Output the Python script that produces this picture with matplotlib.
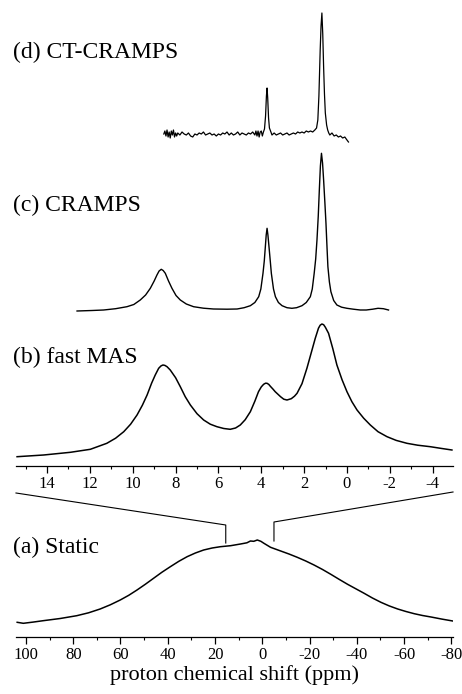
import matplotlib
matplotlib.use("Agg")
import matplotlib.pyplot as plt
from matplotlib.ticker import MultipleLocator, FormatStrFormatter

plt.rcParams['font.family'] = ['Liberation Serif', 'DejaVu Serif']
plt.rcParams['axes.unicode_minus'] = False

# traced spectra: chemical shift (ppm) and height above each trace's baseline (arb.)
# (a) static, wide ppm range
ppm_a = [103.7, 101.1, 97.0, 92.7, 85.5, 78.5, 73.5, 68.6, 64.3, 60.1, 56.5, 53.0,
         49.5, 46.0, 42.5, 38.9, 35.3, 31.8, 28.3, 24.8, 21.2, 17.7, 13.4, 9.2,
         6.5, 5.0, 3.6, 2.1, 0.6, -0.7, -3.5, -7.8, -11.3, -14.8, -18.4, -21.9,
         -25.5, -29.0, -32.5, -36.1, -39.6, -43.1, -46.6, -50.2, -53.7, -57.3,
         -60.8, -64.3, -67.8, -71.4, -76.0, -80.6]
int_a = [1.0, 0.0, 1.2, 2.6, 4.8, 7.6, 10.5, 14.3, 18.5, 23.3, 28.0, 33.3,
         39.0, 45.0, 51.0, 56.6, 62.0, 66.6, 70.3, 73.3, 75.3, 76.6, 77.6, 79.3,
         80.5, 82.3, 82.0, 83.3, 82.0, 80.0, 76.0, 72.3, 69.3, 66.0, 62.3, 58.3,
         53.8, 49.0, 44.0, 39.0, 34.5, 30.0, 25.3, 21.0, 17.4, 14.3,
         11.8, 9.6, 7.8, 6.3, 4.2, 2.3]

# (b) fast MAS
ppm_b = [15.40, 14.16, 12.91, 11.98, 11.21, 10.80, 10.42, 10.10, 9.80, 9.55, 9.33,
         9.12, 8.95, 8.79, 8.68, 8.59, 8.50, 8.40, 8.25, 8.00, 7.78, 7.55, 7.31,
         7.00, 6.69, 6.38, 6.07, 5.75, 5.45, 5.20, 4.98, 4.75, 4.51, 4.30, 4.13,
         4.00, 3.89, 3.80, 3.73, 3.65, 3.58, 3.45, 3.35, 3.10, 2.95, 2.80, 2.60,
         2.45, 2.33, 2.10, 1.87, 1.68, 1.48, 1.33, 1.25, 1.17, 1.09, 1.01, 0.86,
         0.66, 0.47, 0.23, 0.0, -0.23, -0.47, -0.78, -1.09, -1.45, -1.87, -2.30,
         -2.80, -3.30, -3.89, -4.40, -4.90]
int_b = [0.0, 1.7, 4.4, 7.4, 13.4, 18.5, 25.0, 32.5, 41.7, 51.5, 61.7,
         73.5, 81.7, 88.4, 90.8, 91.7, 91.3, 90.0, 86.7, 79.0, 70.0, 60.0, 51.7,
         43.0, 36.7, 32.5, 30.0, 28.2, 27.4, 28.7, 31.7, 37.0, 45.0, 55.5, 65.0,
         69.8, 72.4, 73.5, 73.4, 72.3, 70.5, 67.5, 65.0, 60.0, 57.5, 56.7, 58.0,
         60.5, 63.4, 73.0, 88.4, 103.0, 118.4, 128.5, 131.5, 132.7, 132.0, 129.5, 123.4,
         108.0, 91.7, 77.0, 65.0, 55.0, 46.7, 38.5, 31.7, 25.0, 20.0, 16.3,
         13.4, 11.5, 10.0, 8.3, 6.7]

# (c) CRAMPS
ppm_c = [12.60, 11.90, 11.36, 10.80, 10.27, 9.95, 9.65, 9.40, 9.18, 9.00, 8.87,
         8.77, 8.67, 8.58, 8.48, 8.33, 8.17, 7.98, 7.78, 7.50, 7.16, 6.70, 6.23,
         5.60, 5.13, 4.80, 4.51, 4.30, 4.12, 4.02, 3.92, 3.86, 3.81, 3.77, 3.73,
         3.69, 3.64, 3.58, 3.53, 3.43, 3.34, 3.20, 3.03, 2.80, 2.57, 2.35, 2.10,
         1.90, 1.71, 1.62, 1.53, 1.46, 1.40, 1.34, 1.29, 1.24, 1.19, 1.14, 1.09,
         1.03, 0.98, 0.93, 0.89, 0.82, 0.75, 0.62, 0.47, 0.25, 0.0, -0.30, -0.62,
         -0.90, -1.20, -1.45, -1.70, -1.94]
int_c = [0.0, 0.5, 1.0, 2.3, 4.3, 6.5, 11.0, 16.0, 22.7, 30.0, 36.0,
         40.0, 41.7, 40.5, 37.7, 30.0, 22.7, 15.5, 11.0, 7.0, 4.3, 2.8, 2.0,
         1.8, 2.0, 3.3, 5.3, 8.5, 14.3, 22.0, 37.7, 50.0, 64.3, 76.0, 82.7,
         76.0, 64.3, 50.0, 37.7, 22.0, 14.3, 8.5, 5.3, 3.3, 2.7, 3.3, 5.3,
         8.5, 14.3, 22.0, 37.7, 52.0, 71.0, 95.0, 121.0, 145.0, 157.7, 148.0, 131.0,
         108.0, 87.7, 63.0, 44.3, 29.0, 19.3, 10.5, 6.0, 3.8, 2.7, 1.8, 1.0,
         1.0, 1.8, 2.7, 2.3, 1.0]

# (d) CT-CRAMPS
ppm_d = [8.55, 8.5, 8.45, 8.4, 8.35, 8.3, 8.25, 8.2, 8.15, 8.1, 8.05, 8.0, 7.95,
         7.9, 7.8, 7.7, 7.6, 7.5, 7.4, 7.3, 7.2, 7.1, 7.0, 6.9, 6.8, 6.7, 6.6,
         6.5, 6.4, 6.3, 6.2, 6.1, 6.0, 5.9, 5.8, 5.7, 5.6, 5.5, 5.4, 5.3, 5.2,
         5.1, 5.0, 4.9, 4.8, 4.7, 4.6, 4.5, 4.4, 4.3, 4.25, 4.2, 4.15, 4.1, 4.05,
         4.0, 3.95, 3.9, 3.85, 3.80, 3.76, 3.73, 3.70, 3.66, 3.62, 3.55, 3.5, 3.4,
         3.3, 3.2, 3.1, 3.0, 2.9, 2.8, 2.7, 2.6, 2.5, 2.4, 2.3, 2.2, 2.1, 2.0,
         1.9, 1.8, 1.7, 1.6, 1.5, 1.42, 1.36, 1.31, 1.25, 1.21, 1.17, 1.13, 1.09,
         1.05, 1.01, 0.95, 0.9, 0.85, 0.8, 0.7, 0.6, 0.5, 0.4, 0.3, 0.2, 0.1,
         0.0, -0.07]
int_d = [0, 3, -2, 4, -3, 2, -4, 3, -1, 4, -3, 1, -2,
         1, -1, 2, 0, -1, 1, -2, -3, 0, -1, 1, 0, 2, -1,
         0, 1, -1, 0, -2, 0, -1, 1, 0, 2, -1, 1, -1, 0,
         2, -1, 1, 0, -1, 1, 0, 2, -1, 3, -2, 3, -3, 2,
         3, -2, 2, 5, 18, 38, 46, 36, 16, 6, 2, -1, 1,
         -1, 0, 1, -1, 0, 1, -1, 0, 1, 0, 2, 1, 2, 1,
         3, 2, 3, 2, 4, 6, 14, 38, 84, 108, 121, 100, 67,
         40, 21, 9, 4, 1, -1, 1, -2, -1, -3, -2, -4, -3,
         -6, -8]

labels = ['(d) CT-CRAMPS', '(c) CRAMPS', '(b) fast MAS', '(a) Static']
xlabel = 'proton chemical shift (ppm)'

fig = plt.figure(figsize=(4.62, 6.94), dpi=100)

# upper panel, expanded scale
ax = fig.add_axes([16 / 462, 1 - 466 / 694, 437 / 462, 466 / 694])
ax.plot(ppm_b, [9.3 + v for v in int_b], color='black', lw=1.1)
ax.plot(ppm_c, [155 + v for v in int_c], color='black', lw=1.0)
ax.plot(ppm_d, [332 + v for v in int_d], color='black', lw=0.9)
ax.set_xlim(15.45, -4.95)
ax.set_ylim(0, 466)

# lower panel, full range
ax2 = fig.add_axes([16 / 462, 1 - 637 / 694, 437 / 462, 150 / 694])
ax2.plot(ppm_a, [13.7 + v for v in int_a], color='black', lw=1.1)
ax2.set_xlim(104.2, -80.7)
ax2.set_ylim(0, 150)
ax2.set_xlabel(xlabel, fontsize=16, labelpad=2)

for a, major, minor in [(ax, 2, 1), (ax2, 20, 10)]:
    for s in ['top', 'left', 'right']:
        a.spines[s].set_visible(False)
    a.spines['bottom'].set_linewidth(0.9)
    a.set_yticks([])
    a.xaxis.set_major_locator(MultipleLocator(major))
    a.xaxis.set_minor_locator(MultipleLocator(minor))
    a.xaxis.set_major_formatter(FormatStrFormatter('%d'))
    a.tick_params(axis='x', which='major', direction='out', length=5, width=0.9,
                  labelsize=12, pad=2)
    a.tick_params(axis='x', which='minor', direction='out', length=2.5, width=0.8)
    a.patch.set_alpha(0)

# zoom connector lines, drawn from the upper axis limits onto the full scale
lo, hi = ax.get_xlim()
x0, x1 = ax2.get_xlim()
ax2.plot([x0, lo, lo], [144, 112, 94], color='black', lw=0.8, clip_on=False)
ax2.plot([x1, hi, hi], [145, 115, 96], color='black', lw=0.8, clip_on=False)

for txt, ypx in zip(labels, [52, 205, 357, 547]):
    fig.text(13 / 462, 1 - ypx / 694, txt, fontsize=17, ha='left', va='center')

fig.savefig('out.png', dpi=100)
